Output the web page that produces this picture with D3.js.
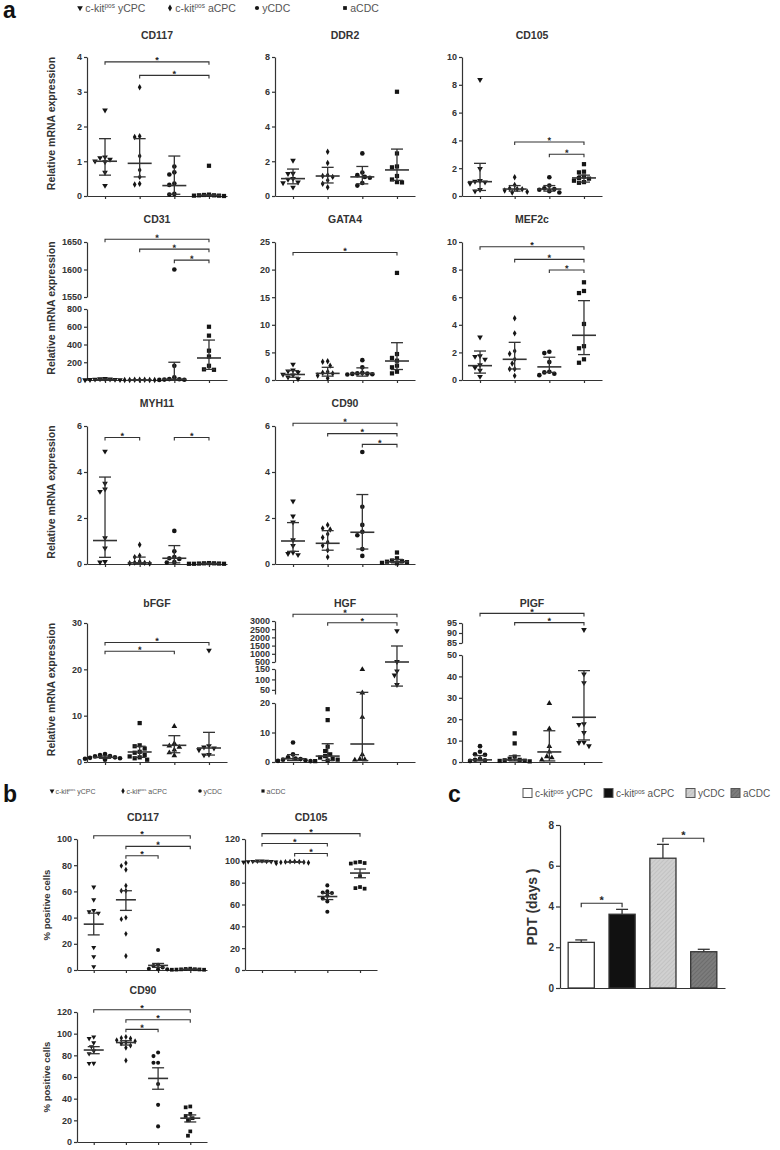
<!DOCTYPE html>
<html>
<head>
<meta charset="utf-8">
<script src="https://cdn.jsdelivr.net/npm/d3@7"></script>
<style>
  body { margin: 0; background: #fff; }
  text { font-family: "Liberation Sans", Arial, sans-serif; fill: #333; }
  .ax path, .ax line { stroke: #333; stroke-width: 1.2; }
  .ax text { font-size: 9px; font-weight: bold; fill: #333; font-family: "Liberation Sans", Arial, sans-serif; }
  .bax text { font-size: 10px; }
  .star { fill: #222; font-weight: bold; }
</style>
</head>
<body>
<svg width="780" height="1150"></svg>
<script>
// groups (legend labels: base, superscript, rest)
var groupLabels = [["c-kit", "pos", " yCPC"], ["c-kit", "pos", " aCPC"], ["yCDC"], ["aCDC"]];

// ---- panel a : relative mRNA expression (median + IQR) ----
var cd117Pts = [[2.47, 1.12, 1.1, 1.05, 1.0, 0.98, 0.68, 0.3], [3.13, 1.72, 1.7, 1.15, 0.75, 0.55, 0.35, 0.33], [0.85, 0.68, 0.62, 0.36, 0.32, 0.06, 0.04], [0.87, 0.04, 0.03, 0.02, 0.02, 0.01, 0.01, 0.0]];
var cd117Med = [1.0, 0.94, 0.3, 0.02];
var cd117Lo = [0.6, 0.55, 0.05, 0.01];
var cd117Hi = [1.65, 1.65, 1.15, 0.03];
var cd117Sig = [[0, 3, 3.86], [1, 3, 3.47]];

var ddr2Pts = [[2.05, 1.3, 1.28, 1.0, 0.95, 0.8, 0.75, 0.5], [2.55, 1.9, 1.2, 1.15, 1.1, 0.9, 0.7, 0.5], [2.45, 1.35, 1.2, 1.1, 1.05, 0.75, 0.6], [6.0, 2.45, 1.7, 1.65, 1.15, 0.95, 0.8, 0.78]];
var ddr2Med = [1.0, 1.15, 1.1, 1.5];
var ddr2Lo = [0.7, 0.75, 0.7, 0.9];
var ddr2Hi = [1.55, 1.65, 1.7, 2.7];
var ddr2Sig = [];

var cd105Pts = [[8.37, 1.96, 1.1, 1.05, 1.0, 0.9, 0.45, 0.35], [1.35, 0.8, 0.55, 0.5, 0.48, 0.4, 0.3, 0.25], [1.35, 0.75, 0.55, 0.5, 0.45, 0.35, 0.25], [2.29, 1.75, 1.7, 1.4, 1.3, 1.25, 1.1, 1.0, 0.95]];
var cd105Med = [1.03, 0.5, 0.5, 1.3];
var cd105Lo = [0.4, 0.35, 0.35, 1.0];
var cd105Hi = [2.35, 0.75, 0.75, 1.5];
var cd105Sig = [[1, 3, 3.88], [2, 3, 3.0]];

var cd31Pts = [[15, 12, 10, 8, 5, 3, 2, 1], [3, 2, 2, 1, 1, 0.5, 0.5], [1600, 160, 30, 10, 8, 5, 3, 1], [600, 500, 330, 265, 160, 120, 115]];
var cd31Med = [5, 1, 8, 248];
var cd31Lo = [2, 0.5, 2, 120];
var cd31Hi = [12, 2, 200, 450];
var cd31Sig = [[0, 3, 1655], [1, 3, 1637], [2, 3, 1617]];
var cd31Breaks = [[0, 800], [1550, 1650]];
var cd31Ticks = [[0, 200, 400, 600, 800], [1550, 1600, 1650]];

var gata4Pts = [[2.85, 1.8, 1.6, 1.4, 1.0, 0.9, 0.5, 0.2], [3.4, 3.3, 2.6, 1.5, 1.3, 1.2, 0.8, 0.3], [3.6, 2.3, 1.3, 1.2, 1.15, 1.1, 1.05, 1.0], [19.4, 4.7, 4.0, 3.5, 2.6, 2.3, 1.5, 1.2]];
var gata4Med = [1.0, 1.2, 1.2, 3.44];
var gata4Lo = [0.5, 0.7, 0.7, 1.9];
var gata4Hi = [1.7, 2.3, 2.2, 6.76];
var gata4Sig = [[0, 3, 23.1]];

var mef2cPts = [[3.1, 1.75, 1.7, 1.5, 1.1, 0.9, 0.7, 0.25], [4.47, 3.38, 2.1, 1.9, 1.5, 1.2, 0.8, 0.8, 0.3], [2.05, 1.95, 1.3, 0.6, 0.55, 0.45, 0.35], [7.08, 6.45, 6.3, 4.06, 2.45, 2.3, 1.5, 1.25]];
var mef2cMed = [1.04, 1.5, 0.95, 3.24];
var mef2cLo = [0.5, 0.8, 0.55, 1.84];
var mef2cHi = [2.1, 2.73, 1.65, 5.75];
var mef2cSig = [[0, 3, 9.66], [1, 3, 8.74], [2, 3, 7.97]];

var myh11Pts = [[4.9, 3.5, 3.25, 3.15, 1.13, 0.69, 0.1, 0.08], [0.84, 0.36, 0.3, 0.12, 0.06, 0.05, 0.03, 0.02], [1.44, 0.55, 0.3, 0.25, 0.22, 0.08, 0.06], [0.04, 0.03, 0.03, 0.02, 0.02, 0.01, 0.01, 0.01]];
var myh11Med = [1.02, 0.05, 0.25, 0.02];
var myh11Lo = [0.29, 0.02, 0.05, 0.01];
var myh11Hi = [3.78, 0.3, 0.8, 0.03];
var myh11Sig = [[0, 1, 5.5], [2, 3, 5.5]];

var cd90Pts = [[2.73, 2.08, 1.82, 1.05, 0.8, 0.5, 0.45, 0.4], [1.7, 1.55, 1.5, 1.3, 1.15, 0.95, 0.8, 0.6, 0.3], [4.87, 2.49, 1.7, 1.4, 1.25, 0.65, 0.35], [0.5, 0.25, 0.15, 0.12, 0.1, 0.08, 0.05, 0.03]];
var cd90Med = [1.0, 0.9, 1.38, 0.1];
var cd90Lo = [0.55, 0.6, 0.65, 0.05];
var cd90Hi = [1.8, 1.45, 3.02, 0.2];
var cd90Sig = [[0, 3, 6.12], [1, 3, 5.67], [2, 3, 5.2]];

var bfgfPts = [[1.7, 1.5, 1.3, 1.2, 1.0, 0.9, 0.8, 0.7, 0.5], [8.4, 3.6, 3.4, 2.9, 2.2, 2.0, 1.5, 1.2, 1.0, 0.8, 0.5], [7.7, 4.0, 3.5, 3.2, 2.6, 2.0, 1.4], [24.1, 3.5, 3.2, 3.0, 2.6, 1.6, 1.5]];
var bfgfMed = [1.0, 2.16, 3.6, 3.02];
var bfgfLo = [0.8, 1.0, 2.0, 1.5];
var bfgfHi = [1.3, 3.4, 5.68, 6.4];
var bfgfSig = [[0, 3, 25.8], [0, 2, 23.9]];

var hgfPts = [[6.6, 2.6, 1.6, 1.2, 1.0, 0.8, 0.6, 0.4, 0.3], [17.9, 14.2, 5.2, 3.7, 2.6, 2.0, 1.5, 1.0, 0.8, 0.5, 0.3], [148, 36, 15.2, 2.5, 1.0, 0.8, 0.7], [2400, 520, 140, 120, 75]];
var hgfMed = [1.1, 2.0, 6.1, 500];
var hgfLo = [0.5, 0.5, 0.5, 68];
var hgfHi = [2.5, 6.2, 38, 1476];
var hgfSig = [[0, 3, 3408], [1, 3, 2896]];
var hgfBreaks = [[0, 20], [30, 150], [500, 3000]];
var hgfTicks = [[0, 10, 20], [50, 100, 150], [500, 1000, 1500, 2000, 2500, 3000]];

var pigfPts = [[7.4, 4.8, 3.6, 3.4, 1.5, 1.0, 0.8, 0.5], [13.4, 8.7, 2.5, 1.5, 1.0, 0.8, 0.6, 0.5, 0.3], [27.4, 15.5, 7.3, 4.7, 2.5, 2.0, 1.0], [91.7, 41.0, 37.0, 17.8, 17.5, 13.7, 9.2, 9.0, 7.5]];
var pigfMed = [1.0, 1.0, 4.7, 20.9];
var pigfLo = [0.5, 0.5, 0.5, 10.3];
var pigfHi = [3.0, 2.9, 14.6, 42.7];
var pigfSig = [[0, 3, 99.8], [1, 3, 95.2]];
var pigfBreaks = [[0, 50], [85, 95]];
var pigfTicks = [[0, 10, 20, 30, 40, 50], [85, 90, 95]];

// ---- panel b : % positive cells (mean + SEM) ----
var bCd117Pts = [[63.3, 53.6, 45.4, 44.5, 43.4, 17.3, 10.2, 2.6], [81.6, 79.5, 76.5, 64.3, 60.5, 60.5, 40, 38.8, 27.6, 10.7], [15.3, 4.0, 3.0, 2.0, 1.0, 0.5, 0.5], [1.0, 0.8, 0.6, 0.5, 0.4, 0.3, 0.2, 0.2]];
var bCd117Mean = [35, 53.6, 3.5, 0.5];
var bCd117Lo = [26.8, 45.5, 2.0, 0.4];
var bCd117Hi = [43.4, 60.5, 5.0, 0.6];
var bCd117Sig = [[0, 3, 102.5], [1, 3, 94.4], [1, 2, 87.2]];

var bCd105Pts = [[100, 99.8, 99.6, 99.5, 99.4, 99.2, 99, 98.8], [99.5, 99.3, 99.2, 99, 98.8, 98.6, 98.3, 97.8], [77.5, 72, 71, 70.5, 68, 65.5, 62.8, 53.3], [99, 98.5, 98, 97.5, 86, 76, 75, 74.5]];
var bCd105Mean = [99.4, 98.9, 67.3, 88.8];
var bCd105Lo = [99.2, 98.7, 64.5, 84.5];
var bCd105Hi = [99.6, 99.1, 70.2, 92.5];
var bCd105Sig = [[0, 3, 124.9], [0, 2, 115.9], [1, 2, 106.7]];

var bCd90Pts = [[97, 95.5, 91.6, 88, 84, 81.5, 72.7, 72.5], [97, 96, 95.5, 94, 93, 92, 91, 89, 87, 75.2], [82.6, 79.3, 73.2, 73.2, 53.6, 34.3, 14.4], [32.8, 32, 26, 24, 22, 20, 9.8, 5.8]];
var bCd90Mean = [84.9, 91.8, 58.7, 22];
var bCd90Lo = [81.5, 89.5, 48.7, 18.5];
var bCd90Hi = [88, 93.5, 68.5, 25];
var bCd90Sig = [[0, 3, 122.1], [1, 3, 112.9], [1, 2, 104]];

// ---- panel c : population doubling time ----
var pdtVals = [2.24, 3.62, 6.37, 1.78];
var pdtErr = [2.36, 3.86, 7.05, 1.9];
var pdtSig = [[0, 1, 4.16], [2, 3, 7.35]];
var pdtTicks = [0, 2, 4, 6, 8];

var svg = d3.select("svg");
var INK = "#333";

var defs = svg.append("defs");
function hatch(id, bg, fg) {
    var p = defs.append("pattern").attr("id", id).attr("patternUnits", "userSpaceOnUse")
        .attr("width", 3).attr("height", 3).attr("patternTransform", "rotate(45)");
    p.append("rect").attr("width", 3).attr("height", 3).attr("fill", bg);
    p.append("line").attr("x1", 0).attr("y1", 0).attr("x2", 0).attr("y2", 3)
        .attr("stroke", fg).attr("stroke-width", 1);
}
hatch("hatchL", "#d0d0d0", "#b4b4b4");
hatch("hatchD", "#7c7c7c", "#5c5c5c");

// marker shapes
function markPath(type, size) {
    var t = { tdown: d3.symbolTriangle, tup: d3.symbolTriangle, diamond: d3.symbolDiamond, circle: d3.symbolCircle, square: d3.symbolSquare }[type];
    return d3.symbol().type(t).size(size)();
}
function drawMark(g, type, x, y, size) {
    g.append("path").attr("d", markPath(type, size))
        .attr("transform", "translate(" + x + "," + y + ")" + (type == "tdown" ? " rotate(180)" : ""))
        .attr("fill", "#151515");
}

function line(g, x1, y1, x2, y2, w) {
    g.append("line").attr("x1", x1).attr("y1", y1).attr("x2", x2).attr("y2", y2)
        .attr("stroke", INK).attr("stroke-width", w || 1.2);
}

// significance star, drawn through a transform so it renders in plain greyscale
function star(g, x, y, fs) {
    g.append("text").attr("class", "star").attr("text-anchor", "middle")
        .attr("transform", "translate(" + x + "," + y + ") rotate(0.5)")
        .style("font-size", fs + "px").text("*");
}

// significance bracket with star
function bracket(g, x1, x2, y) {
    g.append("path").attr("d", "M" + x1 + "," + (y + 3) + "V" + y + "H" + x2 + "V" + (y + 3))
        .attr("fill", "none").attr("stroke", INK).attr("stroke-width", 1.1);
    star(g, (x1 + x2) / 2, y + 1.5, 9);
}

// simple beeswarm so points with close values sit side by side
function swarm(vals, y, cx, d) {
    var pts = vals.map(function (v) { return { v: v, y: y(v) }; }).sort(function (a, b) { return a.y - b.y; });
    var placed = [];
    pts.forEach(function (p) {
        for (var k = 0; k < 60; k++) {
            var off = k == 0 ? 0 : (k % 2 ? -1 : 1) * Math.ceil(k / 2) * d * 0.5;
            var ok = placed.every(function (q) { return Math.pow(q.x - (cx + off), 2) + Math.pow(q.y - p.y, 2) >= d * d * 0.9; });
            if (ok) { p.x = cx + off; break; }
        }
        placed.push(p);
    });
    return placed;
}

function drawPanel(p) {
    var g = svg.append("g");
    var x = d3.scaleLinear().domain([-0.52, 3.52]).range([p.x, p.x + p.w]);
    var segs = p.breaks.map(function (b, i) { return d3.scaleLinear().domain(b).range(p.ranges[i]); });
    var y = function (v) {
        var i = 0;
        p.breaks.forEach(function (b, k) { if (v >= b[0]) i = k; });
        return segs[i](v);
    };

    segs.forEach(function (s, i) {
        g.append("g").attr("class", "ax").attr("transform", "translate(" + p.x + ",0)")
            .call(d3.axisLeft(s).tickValues(p.ticks[i]).tickSize(3).tickSizeOuter(0).tickPadding(2).tickFormat(d3.format("d")));
    });
    g.append("g").attr("class", "ax").attr("transform", "translate(0," + p.ranges[0][0] + ")")
        .call(d3.axisBottom(x).tickValues([0, 1, 2, 3]).tickSize(3).tickSizeOuter(0).tickFormat(""));

    // points
    p.pts.forEach(function (vals, i) {
        swarm(vals, y, x(i), p.dot).forEach(function (q) { drawMark(g, p.marks[i], q.x, q.y, p.msize[p.marks[i]]); });
    });

    // median / mean with error bars
    p.mid.forEach(function (m, i) {
        var cx = x(i);
        line(g, cx, y(p.lo[i]), cx, y(p.hi[i]), 1.3);
        line(g, cx - p.cap, y(p.hi[i]), cx + p.cap, y(p.hi[i]), 1.3);
        line(g, cx - p.cap, y(p.lo[i]), cx + p.cap, y(p.lo[i]), 1.3);
        line(g, cx - p.med, y(m), cx + p.med, y(m), 1.6);
    });

    p.sig.forEach(function (s) { bracket(g, x(s[0]), x(s[1]), y(s[2])); });

    g.append("text").attr("x", p.x + p.tx).attr("y", p.ty).attr("text-anchor", "middle")
        .style("font-size", "10.5px").style("font-weight", "bold").text(p.title);
}

function yLabel(txt, x, cy, fs) {
    svg.append("text").attr("transform", "translate(" + x + "," + cy + ") rotate(-90)")
        .attr("text-anchor", "middle").style("font-size", fs + "px").style("font-weight", "bold").text(txt);
}

function legend(xs, y, fs, msize, marks) {
    var g = svg.append("g");
    groupLabels.forEach(function (lab, i) {
        drawMark(g, marks[i], xs[i], y, msize);
        var t = g.append("text").attr("x", xs[i] + fs * 0.5).attr("y", y + fs * 0.36)
            .style("font-size", fs + "px").style("fill", "#555");
        if (lab.length == 3) {
            t.append("tspan").text(lab[0]);
            t.append("tspan").attr("dy", -fs * 0.35).style("font-size", (fs * 0.62) + "px").text(lab[1]);
            t.append("tspan").attr("dy", fs * 0.35).text(lab[2]);
        } else {
            t.text(lab[0]);
        }
    });
}

function panelLetter(t, x, y) {
    svg.append("text").attr("x", x).attr("y", y).style("font-size", "23px").style("font-weight", "bold")
        .style("fill", "#111").text(t);
}

// ---------- layout ----------
var cols = [87, 275, 462];
var rows = [[196, 57], [380, 242], [564, 426], [762, 623]];
var titleY = [39, 223, 407, 607];
var marksA = ["tdown", "diamond", "circle", "square"];
var marksRow4 = ["circle", "square", "tup", "tdown"];
var sizeA = { tdown: 14, tup: 14, diamond: 12, circle: 17, square: 18 };
var sizeB = { tdown: 11, tup: 11, diamond: 10, circle: 13, square: 14 };

function single(max, row) { return { breaks: [[0, max]], ranges: [rows[row]] }; }

var panelsA = [
    { title: "CD117", c: 0, r: 0, pts: cd117Pts, mid: cd117Med, lo: cd117Lo, hi: cd117Hi, sig: cd117Sig, ax: single(4, 0), ticks: [[0, 1, 2, 3, 4]] },
    { title: "DDR2", c: 1, r: 0, pts: ddr2Pts, mid: ddr2Med, lo: ddr2Lo, hi: ddr2Hi, sig: ddr2Sig, ax: single(8, 0), ticks: [[0, 2, 4, 6, 8]] },
    { title: "CD105", c: 2, r: 0, pts: cd105Pts, mid: cd105Med, lo: cd105Lo, hi: cd105Hi, sig: cd105Sig, ax: single(10, 0), ticks: [[0, 2, 4, 6, 8, 10]] },
    { title: "CD31", c: 0, r: 1, pts: cd31Pts, mid: cd31Med, lo: cd31Lo, hi: cd31Hi, sig: cd31Sig, ax: { breaks: cd31Breaks, ranges: [[380, 309], [297, 242]] }, ticks: cd31Ticks },
    { title: "GATA4", c: 1, r: 1, pts: gata4Pts, mid: gata4Med, lo: gata4Lo, hi: gata4Hi, sig: gata4Sig, ax: single(25, 1), ticks: [[0, 5, 10, 15, 20, 25]] },
    { title: "MEF2c", c: 2, r: 1, pts: mef2cPts, mid: mef2cMed, lo: mef2cLo, hi: mef2cHi, sig: mef2cSig, ax: single(10, 1), ticks: [[0, 2, 4, 6, 8, 10]] },
    { title: "MYH11", c: 0, r: 2, pts: myh11Pts, mid: myh11Med, lo: myh11Lo, hi: myh11Hi, sig: myh11Sig, ax: single(6, 2), ticks: [[0, 2, 4, 6]] },
    { title: "CD90", c: 1, r: 2, pts: cd90Pts, mid: cd90Med, lo: cd90Lo, hi: cd90Hi, sig: cd90Sig, ax: single(6, 2), ticks: [[0, 2, 4, 6]] },
    { title: "bFGF", c: 0, r: 3, pts: bfgfPts, mid: bfgfMed, lo: bfgfLo, hi: bfgfHi, sig: bfgfSig, ax: single(30, 3), ticks: [[0, 10, 20, 30]] },
    { title: "HGF", c: 1, r: 3, pts: hgfPts, mid: hgfMed, lo: hgfLo, hi: hgfHi, sig: hgfSig, ax: { breaks: hgfBreaks, ranges: [[762, 703], [694, 669], [662, 621]] }, ticks: hgfTicks },
    { title: "PIGF", c: 2, r: 3, pts: pigfPts, mid: pigfMed, lo: pigfLo, hi: pigfHi, sig: pigfSig, ax: { breaks: pigfBreaks, ranges: [[762, 655], [643, 623]] }, ticks: pigfTicks }
];

panelsA.forEach(function (d) {
    drawPanel({
        title: d.title, x: cols[d.c], w: 140, tx: 70, ty: titleY[d.r],
        breaks: d.ax.breaks, ranges: d.ax.ranges, ticks: d.ticks,
        pts: d.pts, mid: d.mid, lo: d.lo, hi: d.hi, sig: d.sig,
        marks: d.r == 3 ? marksRow4 : marksA, msize: sizeA, dot: 5, med: 12, cap: 6
    });
});
rows.forEach(function (r) { yLabel("Relative mRNA expression", 55, (r[0] + r[1]) / 2 - 3, 10.5); });

panelLetter("a", 3, 18);
legend([80, 170, 257, 345], 8, 10.5, 14, marksA);

// ---------- panel b ----------
var panelsB = [
    { title: "CD117", x: 77, w: 130, r: [970, 839], max: 100, ty: 821, pts: bCd117Pts, mid: bCd117Mean, lo: bCd117Lo, hi: bCd117Hi, sig: bCd117Sig, ticks: [0, 20, 40, 60, 80, 100] },
    { title: "CD105", x: 245, w: 132, r: [970, 839], max: 120, ty: 821, pts: bCd105Pts, mid: bCd105Mean, lo: bCd105Lo, hi: bCd105Hi, sig: bCd105Sig, ticks: [0, 20, 40, 60, 80, 100, 120] },
    { title: "CD90", x: 77, w: 130, r: [1142, 1012], max: 120, ty: 994, pts: bCd90Pts, mid: bCd90Mean, lo: bCd90Lo, hi: bCd90Hi, sig: bCd90Sig, ticks: [0, 20, 40, 60, 80, 100, 120] }
];
panelsB.forEach(function (d) {
    drawPanel({
        title: d.title, x: d.x, w: d.w, tx: 66, ty: d.ty,
        breaks: [[0, d.max]], ranges: [d.r], ticks: [d.ticks],
        pts: d.pts, mid: d.mid, lo: d.lo, hi: d.hi, sig: d.sig,
        marks: marksA, msize: sizeB, dot: 4.6, med: 10, cap: 6
    });
});
yLabel("% positive cells", 50, 905, 9.5);
yLabel("% positive cells", 50, 1077, 9.5);

panelLetter("b", 3, 802);
legend([52, 123, 200, 263], 791, 7, 10, marksA);

// ---------- panel c ----------
(function () {
    var g = svg.append("g");
    var x = d3.scaleBand().domain(d3.range(4)).range([560, 725]).paddingInner(0.36).paddingOuter(0.2);
    var y = d3.scaleLinear().domain([0, 8]).range([988, 825]);
    var fills = ["#fff", "#111", "url(#hatchL)", "url(#hatchD)"];

    g.append("g").attr("class", "ax bax").attr("transform", "translate(560,0)")
        .call(d3.axisLeft(y).tickValues(pdtTicks).tickSize(4).tickSizeOuter(0).tickPadding(2));
    g.append("g").attr("class", "ax").attr("transform", "translate(0,988)")
        .call(d3.axisBottom(x).tickSize(0).tickSizeOuter(0).tickFormat(""));

    pdtVals.forEach(function (v, i) {
        var cx = x(i) + x.bandwidth() / 2;
        line(g, cx, y(v), cx, y(pdtErr[i]), 1.3);
        line(g, cx - 6, y(pdtErr[i]), cx + 6, y(pdtErr[i]), 1.3);
        g.append("rect").attr("x", x(i)).attr("y", y(v)).attr("width", x.bandwidth()).attr("height", y(0) - y(v))
            .attr("fill", fills[i]).attr("stroke", INK).attr("stroke-width", 1.3);
    });
    pdtSig.forEach(function (s) {
        var x1 = x(s[0]) + x.bandwidth() / 2, x2 = x(s[1]) + x.bandwidth() / 2;
        g.append("path").attr("d", "M" + x1 + "," + (y(s[2]) + 4) + "V" + y(s[2]) + "H" + x2 + "V" + (y(s[2]) + 4))
            .attr("fill", "none").attr("stroke", INK).attr("stroke-width", 1.2);
        star(g, (x1 + x2) / 2, y(s[2]) + 0.5, 11);
    });
    yLabel("PDT (days )", 537, 907, 14);

    // legend with boxes
    var lx = [523, 604, 686, 731];
    groupLabels.forEach(function (lab, i) {
        g.append("rect").attr("x", lx[i]).attr("y", 788.5).attr("width", 9).attr("height", 9)
            .attr("fill", fills[i]).attr("stroke", "#555").attr("stroke-width", 1);
        var t = g.append("text").attr("x", lx[i] + 12).attr("y", 797).style("font-size", "10px").style("fill", "#555");
        if (lab.length == 3) {
            t.append("tspan").text(lab[0]);
            t.append("tspan").attr("dy", -3.5).style("font-size", "6.5px").text(lab[1]);
            t.append("tspan").attr("dy", 3.5).text(lab[2]);
        } else {
            t.text(lab[0]);
        }
    });
})();
panelLetter("c", 448, 802);
</script>
</body>
</html>
